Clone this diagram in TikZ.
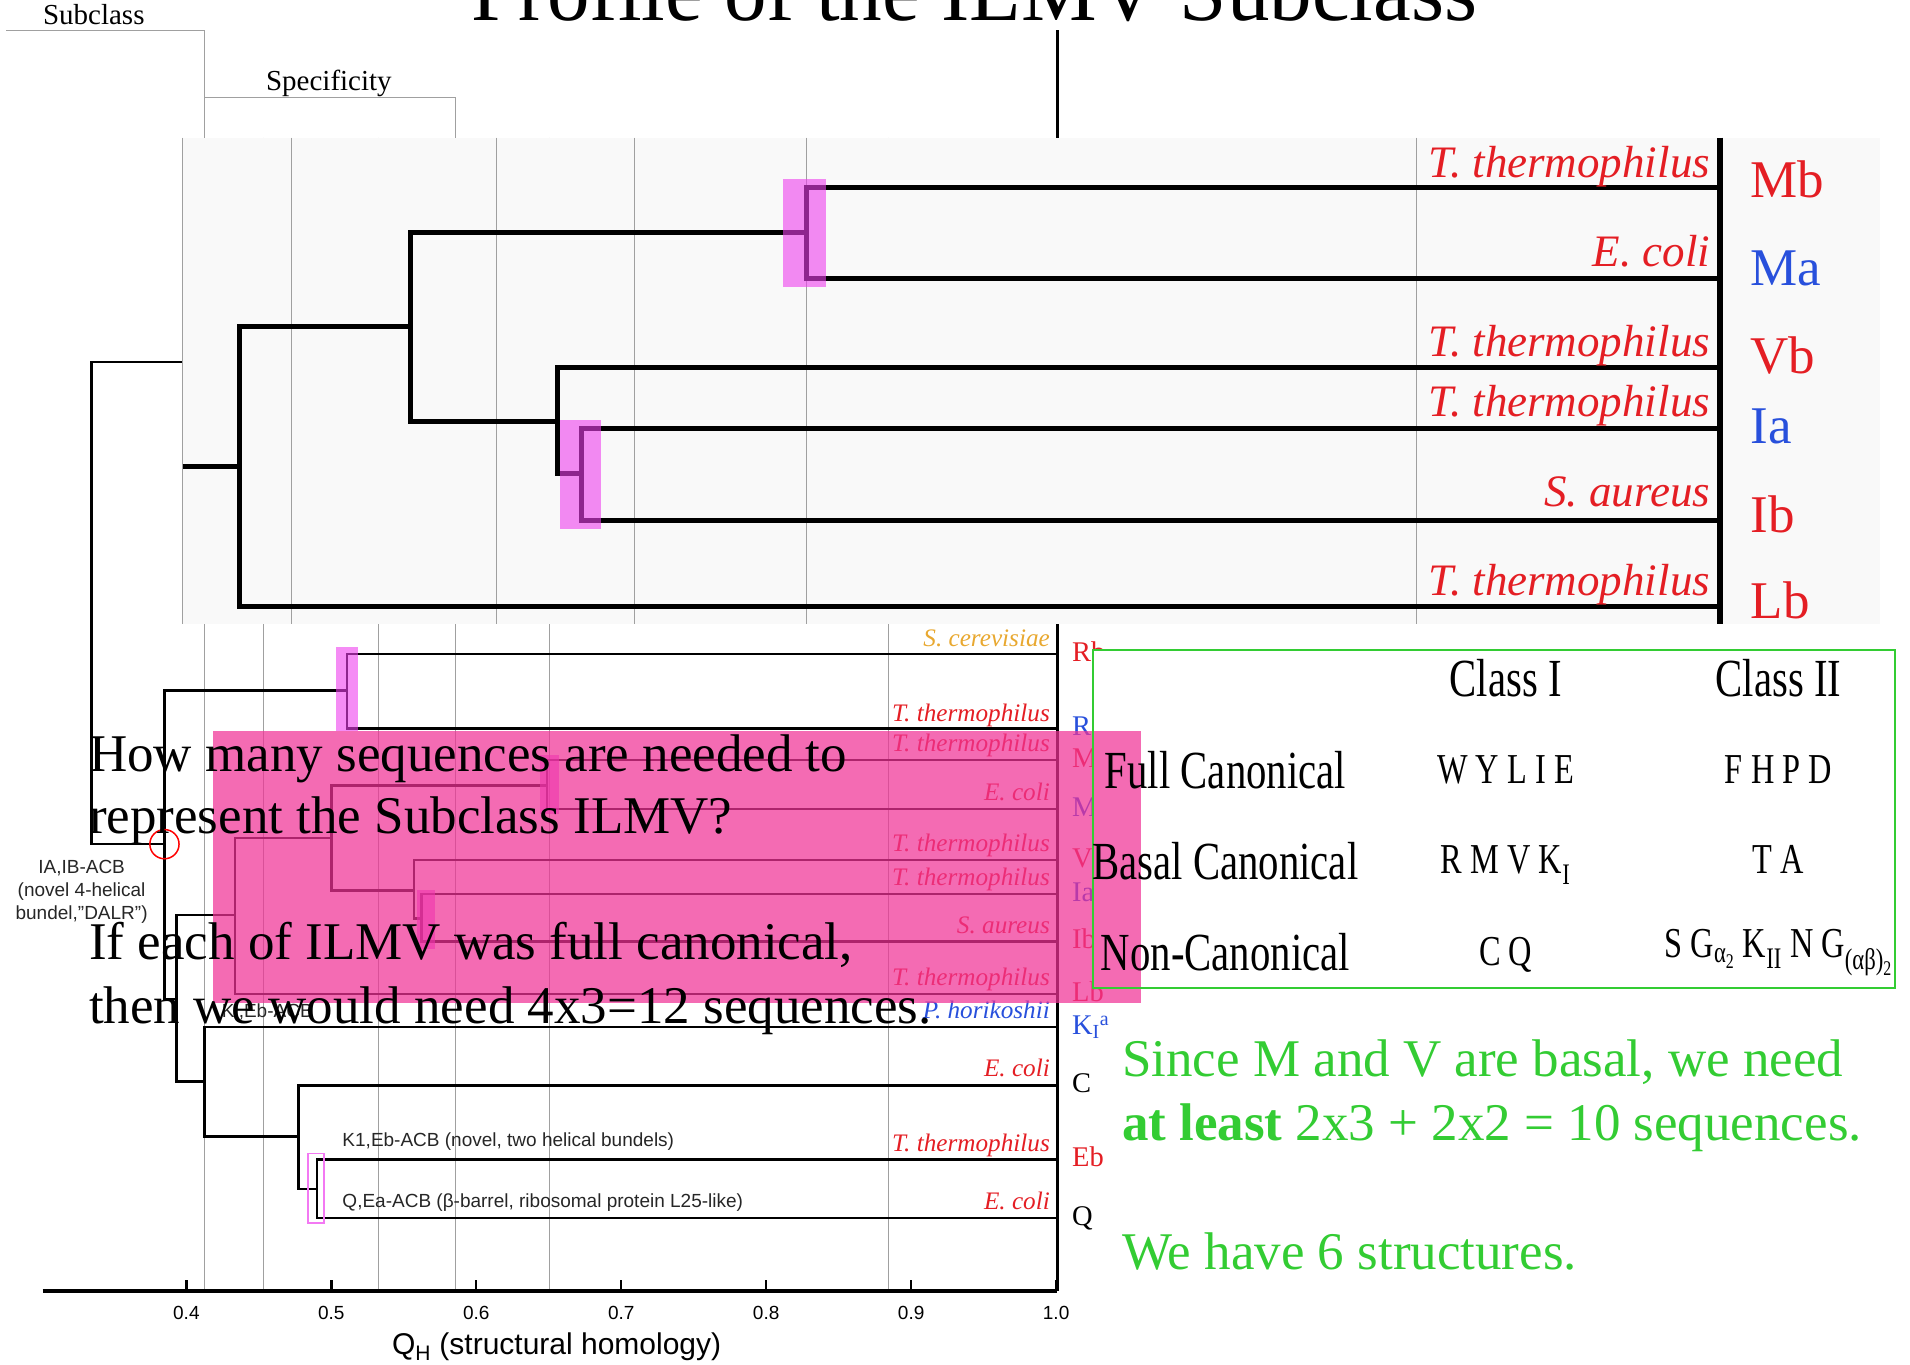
\documentclass[tikz,border=0pt]{standalone}
\usepackage{fontspec}
\setmainfont{Liberation Serif}
\setsansfont{Liberation Sans}
\newfontfamily\tabfont[FakeStretch=0.76]{Liberation Serif}
\newcommand{\setpx}[1]{\fontsize{#1}{#1}\selectfont}
\definecolor{labred}{RGB}{228,30,36}
\definecolor{labblue}{RGB}{40,80,220}
\definecolor{labgold}{RGB}{232,168,48}
\definecolor{gridgray}{RGB}{160,160,160}
\definecolor{panelbg}{RGB}{249,249,249}
\definecolor{hilite}{RGB}{238,63,238}
\definecolor{hatchpink}{RGB}{240,50,150}
\definecolor{slidegreen}{RGB}{51,204,51}

\begin{document}
\begin{tikzpicture}[x=1.2181pt, y=-1.2181pt,
    grid/.style={draw=gridgray, line width=1pt},
    lotree/.style={line width=2.4pt},
    hitree/.style={line width=5pt},
    hlbox/.style={fill=hilite, opacity=0.6},
    spbig/.style={text=labred, font=\setpx{45}\itshape, anchor=base east, inner sep=0pt},
    codebig/.style={font=\setpx{53}, anchor=base west, inner sep=0pt},
    spsmall/.style={text=labred, font=\setpx{25.2}\itshape, anchor=base east, inner sep=0pt},
    codesmall/.style={font=\setpx{28.5}, anchor=base west, inner sep=0pt},
    acb/.style={text=black!85, font=\sffamily\setpx{19}, anchor=base west, inner sep=0pt},
    ticklab/.style={font=\sffamily\setpx{19}, anchor=base, inner sep=0pt},
    slide/.style={font=\setpx{53}, anchor=base west, inner sep=0pt},
    tabhead/.style={font=\tabfont\setpx{53.6}, anchor=base, inner sep=0pt},
    tabcell/.style={font=\tabfont\setpx{42.6}, anchor=base, inner sep=0pt}]

    \useasboundingbox (0,0) rectangle (1568,1120);

    % 1. Lower dendrogram: header lines and grid
    \draw[grid] (5,25) -- (168,25) -- (168,1060);
    \draw[grid] (168,80) -- (374,80) -- (374,1060);
    \foreach \gx in {216,311,451,729} {
        \draw[grid] (\gx,113) -- (\gx,1060);
    }
    \node[font=\setpx{29}, anchor=base, inner sep=0pt] (subclassLab) at (77,20) {Subclass};
    \node[font=\setpx{29}, anchor=base, inner sep=0pt] (specLab) at (270,74) {Specificity};

    % branches
    \draw[lotree] (150,297) -| (75,693) -- (135,693);
    \draw[lotree] (868,537) -| (285,598) -- (868,598);
    \draw[lotree] (285,567) -- (135,567) -- (135,820) -- (145,820);
    \draw[lotree] (193,751) -| (145,888) -- (168,888);
    \draw[lotree] (272,688) -| (193,816) -- (868,816);
    \draw[lotree] (449,645) -| (272,731) -- (340,731);
    \draw[lotree] (868,624) -| (449,664) -- (868,664);
    \draw[lotree] (868,706) -| (340,754) -- (346,754);
    \draw[lotree] (868,734) -| (346,773) -- (868,773);
    \draw[lotree] (868,843) -| (168,933) -- (245,933);
    \draw[lotree] (868,891) -| (245,976) -- (260,976);
    \draw[lotree] (868,952) -| (260,1000) -- (868,1000);
    \draw[line width=3.6pt] (868,25) -- (868,1060);

    \fill[hlbox] (276,531) rectangle (294,600);
    \fill[hlbox] (443,620) rectangle (459,668);
    \fill[hlbox] (342,731) rectangle (357,779);
    \draw[hilite!70, line width=1.5pt] (253,947) rectangle (266,1004);
    \draw[red, line width=1.5pt] (135,693) circle[radius=14.6pt];

    % species and subclass labels
    \foreach \yl/\yc/\spc/\scol/\cod/\col [count=\i] in {
        531/543/S. cerevisiae/labgold/Rb/labred, 592/604/T. thermophilus/labred/R/labblue,
        617/630/T. thermophilus/labred/M/labred, 657/670/E. coli/labred/M/labblue,
        699/712/T. thermophilus/labred/V/labred, 727/740/T. thermophilus/labred/Ia/labblue,
        766/779/S. aureus/labred/Ib/labred, 809/822/T. thermophilus/labred/Lb/labred,
        884/897/E. coli/labred/C/black, 945/958/T. thermophilus/labred/Eb/labred,
        993/1006/E. coli/labred/Q/black} {
        \node[spsmall, text=\scol] (losp\i) at (862,\yl) {\spc};
        \node[codesmall, text=\col] (locd\i) at (880,\yc) {\cod};
    }
    \node[spsmall, text=labblue] (lospK) at (862,836) {P. horikoshii};
    \node[codesmall, text=labblue] (locdK) at (880,849) {K\textsubscript{I}\textsuperscript{a}};

    \node[acb] (acbK) at (182,835) {K\textsubscript{I},Eb-ACB};
    \node[acb] (acbEb) at (281,941) {K1,Eb-ACB (novel, two helical bundels)};
    \node[acb] (acbQ) at (281,991) {Q,Ea-ACB (β-barrel, ribosomal protein L25-like)};
    \node[acb, anchor=base] (acbIa) at (67,717) {IA,IB-ACB};
    \node[acb, anchor=base] (acbIb) at (67,736) {(novel 4-helical};
    \node[acb, anchor=base] (acbIc) at (67,755) {bundel,"DALR")};

    % axis
    \draw[line width=3.6pt] (35,1060) -- (868,1060);
    \foreach \k/\lab in {0/0.4,1/0.5,2/0.6,3/0.7,4/0.8,5/0.9,6/1.0} {
        \draw[line width=2.4pt] (153+\k*119,1060) -- (153+\k*119,1051);
        \node[ticklab] (tick\k) at (153+\k*119,1083) {\lab};
    }
    \node[font=\sffamily\setpx{30}, anchor=base, inner sep=0pt] (axisLab) at (457,1112)
        {Q\textsubscript{H} (structural homology)};

    % 2. Zoomed panel of the ILMV subclass
    \fill[panelbg] (150,113) rectangle (1543,512);
    \foreach \gx in {150,239,408,521,662,1163} {
        \draw[grid] (\gx,113) -- (\gx,512);
    }
    \draw[hitree] (150,383) -- (197,383);
    \draw[hitree] (337,268) -| (197,498) -- (1412,498);
    \draw[hitree] (662,191) -| (337,346) -- (458,346);
    \draw[hitree] (1412,154) -| (662,229) -- (1412,229);
    \draw[hitree] (1412,302) -| (458,389) -- (477,389);
    \draw[hitree] (1412,352) -| (477,427) -- (1412,427);
    \draw[line width=6pt] (1412,113) -- (1412,512);
    \fill[hlbox] (643,147) rectangle (678,236);
    \fill[hlbox] (460,345) rectangle (493,434);

    \foreach \yl/\yc/\spc/\cod/\col [count=\i] in {
        146/162/T. thermophilus/Mb/labred, 219/234/E. coli/Ma/labblue,
        293/307/T. thermophilus/Vb/labred, 342/364/T. thermophilus/Ia/labblue,
        416/437/S. aureus/Ib/labred, 489/508/T. thermophilus/Lb/labred} {
        \node[spbig] (topsp\i) at (1404,\yl) {\spc};
        \node[codebig, text=\col] (topcd\i) at (1437,\yc) {\cod};
    }

    % 3. Class table and selection overlay
    \fill[white] (897,534) rectangle (1556,811);
    \fill[hatchpink, opacity=0.72] (175,600) rectangle (937,823);
    \draw[slidegreen, line width=2pt] (897,534) rectangle (1556,811);

    \node[tabhead] (cls1) at (1236,572) {Class I};
    \node[tabhead] (cls2) at (1460,572) {Class II};
    \node[tabhead] (rowFull) at (1006,647) {Full Canonical};
    \node[tabhead] (rowBasal) at (1006,722) {Basal Canonical};
    \node[tabhead] (rowNon) at (1006,797) {Non-Canonical};
    \node[tabcell] (fullI) at (1236,643) {W Y L I E};
    \node[tabcell] (fullII) at (1460,643) {F H P D};
    \node[tabcell] (basalI) at (1236,717) {R M V K\textsubscript{I}};
    \node[tabcell] (basalII) at (1460,717) {T A};
    \node[tabcell] (nonI) at (1236,793) {C Q};
    \node[tabcell] (nonII) at (1460,786)
        {S G\textsubscript{α\textsubscript{2}} K\textsubscript{II} N G\textsubscript{(αβ)\textsubscript{2}}};

    % 4. Slide text
    \node[slide] (ques1) at (73,633) {How many sequences are needed to};
    \node[slide] (ques2) at (73,684) {represent the Subclass ILMV?};
    \node[slide] (ques3) at (73,788) {If each of ILMV was full canonical,};
    \node[slide] (ques4) at (73,840) {then we would need 4x3=12 sequences.};
    \node[slide, text=slidegreen] (ans1) at (921,884) {Since M and V are basal, we need};
    \node[slide, text=slidegreen] (ans2) at (921,936) {\textbf{at least} 2x3 + 2x2 = 10 sequences.};
    \node[slide, text=slidegreen] (ans3) at (921,1042) {We have 6 structures.};

    \node[font=\setpx{85}, anchor=base, inner sep=0pt] (title) at (800,17) {Profile of the ILMV Subclass};

\end{tikzpicture}
\end{document}
